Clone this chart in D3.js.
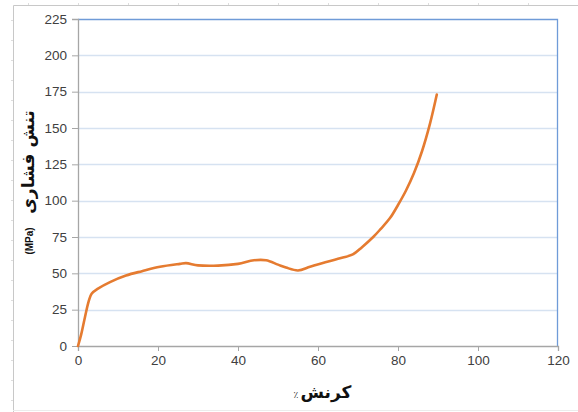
<!DOCTYPE html>
<html>
<head>
<meta charset="utf-8">
<script src="https://cdn.jsdelivr.net/npm/d3@7"></script>
<style>
  body { margin: 0; background: #fff; }
  svg { display: block; }
</style>
</head>
<body>
<svg id="chart"></svg>
<script>
// strain (%) and compressive stress (MPa)
const strain = [0, 0.8, 1.75, 2.7, 3.4, 5, 8, 12, 16, 20.5, 25.5, 27, 30, 35, 40, 44, 47, 50, 52, 55, 58, 61, 65, 68.7, 71, 73.8, 75.5, 78, 80, 82, 84, 86, 88, 89.7];
const stress = [0, 8, 20, 31, 36, 39.5, 44, 48.5, 51.5, 54.5, 56.5, 57, 55.5, 55.3, 56.5, 59, 59, 56, 54, 52, 54.5, 57, 60, 63, 68, 75, 80, 88, 97, 107, 119, 134, 153, 173];
const xTicks = [0, 20, 40, 60, 80, 100, 120];
const yTicks = [0, 25, 50, 75, 100, 125, 150, 175, 200, 225];
const yLabel = 'تنش فشاری';
const yUnit = '(MPa)';
const xLabel = 'کرنش';
const xUnit = '٪';

const width = 578, height = 412;
const margin = { top: 19, right: 20, bottom: 66, left: 78 };
const chartW = width - margin.left - margin.right;
const chartH = height - margin.top - margin.bottom;

const svg = d3.select('#chart').attr('width', width).attr('height', height);

// outer frame (page edge)
const frame = svg.append('g').attr('stroke', '#c8c8c8').attr('fill', 'none');
frame.append('path').attr('d', `M13.5,${height}V5.5H${width}`);
frame.append('line').attr('x1', 13).attr('x2', width).attr('y1', 410.5).attr('y2', 410.5).attr('stroke', '#ececec');
for (let x = 28; x < width; x += 50) {
  frame.append('line').attr('x1', x + 0.5).attr('x2', x + 0.5).attr('y1', 3).attr('y2', 5).attr('stroke', '#dddddd');
}
for (let y = 20; y < height; y += 20) {
  frame.append('line').attr('x1', 11).attr('x2', 13).attr('y1', y + 0.5).attr('y2', y + 0.5).attr('stroke', '#dddddd');
}

const g = svg.append('g').attr('transform', `translate(${margin.left},${margin.top})`);

const xScale = d3.scaleLinear().domain([0, 120]).range([0, chartW]);
const yScale = d3.scaleLinear().domain([0, 225]).range([chartH, 0]);

// gridlines
g.append('g')
  .selectAll('line')
  .data(yTicks.filter(d => d > 0 && d < 225))
  .join('line')
  .attr('x1', 0).attr('x2', chartW)
  .attr('y1', d => Math.round(yScale(d)) + 0.5)
  .attr('y2', d => Math.round(yScale(d)) + 0.5)
  .attr('stroke', '#d6e2f1')
  .attr('stroke-width', 1.3);

// top and right plot border (blue)
g.append('path')
  .attr('d', `M0,0.5H${chartW - 0.5}V${chartH}`)
  .attr('fill', 'none')
  .attr('stroke', '#6f9bd8')
  .attr('stroke-width', 1.3);

// axes
const xAxis = d3.axisBottom(xScale).tickValues(xTicks).tickSize(5).tickPadding(4);
const yAxis = d3.axisLeft(yScale).tickValues(yTicks).tickSize(6).tickPadding(5);

const gx = g.append('g').attr('transform', `translate(0,${chartH})`).call(xAxis);
const gy = g.append('g').call(yAxis);

[gx, gy].forEach(ax => {
  ax.select('.domain').attr('stroke', '#a6a6a6').attr('stroke-width', 1.3);
  ax.selectAll('.tick line').attr('stroke', '#a6a6a6');
  ax.selectAll('.tick text')
    .attr('fill', '#404040')
    .attr('font-family', 'Liberation Sans, Arial, sans-serif')
    .attr('font-size', '13.5px');
});
gy.select('.domain').attr('d', `M-6,0.5H0.5V${chartH + 0.5}`);

// curve
const line = d3.line()
  .x((d, i) => xScale(strain[i]))
  .y(d => yScale(d))
  .curve(d3.curveCatmullRom.alpha(0.5));

g.append('path')
  .datum(stress)
  .attr('fill', 'none')
  .attr('stroke', '#e57b30')
  .attr('stroke-width', 2.6)
  .attr('stroke-linejoin', 'round')
  .attr('stroke-linecap', 'round')
  .attr('d', line);

// y axis title
svg.append('text')
  .attr('transform', 'translate(34,162) rotate(-90)')
  .attr('text-anchor', 'middle')
  .attr('font-family', 'DejaVu Sans, sans-serif')
  .attr('font-weight', 'bold')
  .attr('font-size', '17px')
  .attr('fill', '#111')
  .text(yLabel);

svg.append('text')
  .attr('transform', 'translate(33,241) rotate(-90)')
  .attr('text-anchor', 'middle')
  .attr('font-family', 'Liberation Sans, Arial, sans-serif')
  .attr('font-weight', 'bold')
  .attr('font-size', '10px')
  .attr('fill', '#111')
  .text(yUnit);

// x axis title
svg.append('text')
  .attr('x', 326)
  .attr('y', 398)
  .attr('text-anchor', 'middle')
  .attr('font-family', 'DejaVu Sans, sans-serif')
  .attr('font-weight', 'bold')
  .attr('font-size', '17px')
  .attr('fill', '#111')
  .text(xLabel);

svg.append('text')
  .attr('x', 296)
  .attr('y', 398)
  .attr('text-anchor', 'middle')
  .attr('font-family', 'DejaVu Sans, sans-serif')
  .attr('font-size', '9px')
  .attr('fill', '#333')
  .text(xUnit);
</script>
</body>
</html>
